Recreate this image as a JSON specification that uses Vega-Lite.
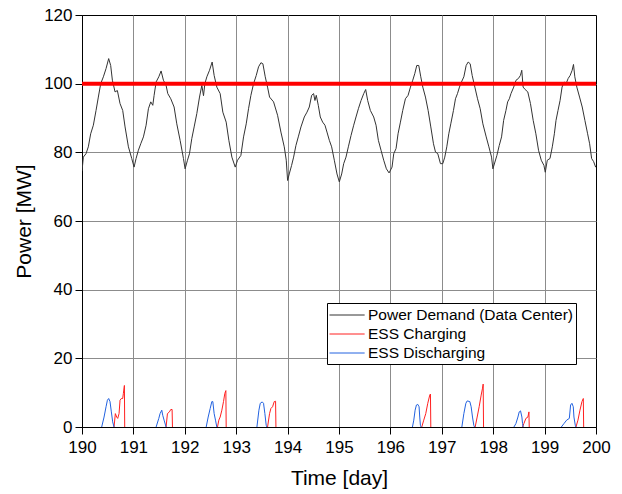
{
  "$schema": "https://vega.github.io/schema/vega-lite/v6.json",
  "width": 514,
  "height": 412,
  "autosize": {"type": "none"},
  "padding": {"left": 82, "top": 15, "right": 26, "bottom": 67},
  "background": "white",
  "config": {"view": {"stroke": "black", "strokeWidth": 1}, "font": "Liberation Sans"},
  "datasets": {
    "lines": [
      {"s":"Power Demand (Data Center)","d":0,"t":190.000,"p":74.5},{"s":"Power Demand (Data Center)","d":0,"t":190.026,"p":78.6},{"s":"Power Demand (Data Center)","d":0,"t":190.078,"p":79.6},{"s":"Power Demand (Data Center)","d":0,"t":190.123,"p":81.6},{"s":"Power Demand (Data Center)","d":0,"t":190.169,"p":85.4},{"s":"Power Demand (Data Center)","d":0,"t":190.221,"p":87.9},{"s":"Power Demand (Data Center)","d":0,"t":190.273,"p":92.2},{"s":"Power Demand (Data Center)","d":0,"t":190.318,"p":96.1},{"s":"Power Demand (Data Center)","d":0,"t":190.364,"p":100},{"s":"Power Demand (Data Center)","d":0,"t":190.416,"p":102},{"s":"Power Demand (Data Center)","d":0,"t":190.468,"p":104.4},{"s":"Power Demand (Data Center)","d":0,"t":190.519,"p":107.3},{"s":"Power Demand (Data Center)","d":0,"t":190.558,"p":105.3},{"s":"Power Demand (Data Center)","d":0,"t":190.591,"p":101},{"s":"Power Demand (Data Center)","d":0,"t":190.643,"p":97.6},{"s":"Power Demand (Data Center)","d":0,"t":190.688,"p":98},{"s":"Power Demand (Data Center)","d":0,"t":190.740,"p":94.2},{"s":"Power Demand (Data Center)","d":0,"t":190.792,"p":92.2},{"s":"Power Demand (Data Center)","d":0,"t":190.838,"p":87.4},{"s":"Power Demand (Data Center)","d":0,"t":190.903,"p":81.6},{"s":"Power Demand (Data Center)","d":0,"t":190.968,"p":78.2},
      {"s":"Power Demand (Data Center)","d":0,"t":191.013,"p":75.7},{"s":"Power Demand (Data Center)","d":0,"t":191.052,"p":78.2},{"s":"Power Demand (Data Center)","d":0,"t":191.097,"p":80.6},{"s":"Power Demand (Data Center)","d":0,"t":191.143,"p":82.5},{"s":"Power Demand (Data Center)","d":0,"t":191.195,"p":84.5},{"s":"Power Demand (Data Center)","d":0,"t":191.247,"p":87.9},{"s":"Power Demand (Data Center)","d":0,"t":191.292,"p":92.7},{"s":"Power Demand (Data Center)","d":0,"t":191.338,"p":94.7},{"s":"Power Demand (Data Center)","d":0,"t":191.377,"p":93.7},{"s":"Power Demand (Data Center)","d":0,"t":191.403,"p":96.6},{"s":"Power Demand (Data Center)","d":0,"t":191.442,"p":100.5},{"s":"Power Demand (Data Center)","d":0,"t":191.494,"p":102},{"s":"Power Demand (Data Center)","d":0,"t":191.539,"p":103.7},{"s":"Power Demand (Data Center)","d":0,"t":191.584,"p":101},{"s":"Power Demand (Data Center)","d":0,"t":191.636,"p":99.5},{"s":"Power Demand (Data Center)","d":0,"t":191.669,"p":97.1},{"s":"Power Demand (Data Center)","d":0,"t":191.727,"p":95.6},{"s":"Power Demand (Data Center)","d":0,"t":191.792,"p":93.2},{"s":"Power Demand (Data Center)","d":0,"t":191.844,"p":88.3},{"s":"Power Demand (Data Center)","d":0,"t":191.909,"p":83.5},{"s":"Power Demand (Data Center)","d":0,"t":191.974,"p":78.2},
      {"s":"Power Demand (Data Center)","d":0,"t":192.006,"p":75.2},{"s":"Power Demand (Data Center)","d":0,"t":192.052,"p":77.7},{"s":"Power Demand (Data Center)","d":0,"t":192.091,"p":79.6},{"s":"Power Demand (Data Center)","d":0,"t":192.136,"p":84},{"s":"Power Demand (Data Center)","d":0,"t":192.182,"p":87.4},{"s":"Power Demand (Data Center)","d":0,"t":192.234,"p":91.3},{"s":"Power Demand (Data Center)","d":0,"t":192.286,"p":96.1},{"s":"Power Demand (Data Center)","d":0,"t":192.331,"p":99.5},{"s":"Power Demand (Data Center)","d":0,"t":192.364,"p":96.5},{"s":"Power Demand (Data Center)","d":0,"t":192.390,"p":100},{"s":"Power Demand (Data Center)","d":0,"t":192.429,"p":102},{"s":"Power Demand (Data Center)","d":0,"t":192.481,"p":103.9},{"s":"Power Demand (Data Center)","d":0,"t":192.532,"p":106.3},{"s":"Power Demand (Data Center)","d":0,"t":192.571,"p":102.4},{"s":"Power Demand (Data Center)","d":0,"t":192.623,"p":99},{"s":"Power Demand (Data Center)","d":0,"t":192.688,"p":97.1},{"s":"Power Demand (Data Center)","d":0,"t":192.740,"p":91.7},{"s":"Power Demand (Data Center)","d":0,"t":192.805,"p":88.8},{"s":"Power Demand (Data Center)","d":0,"t":192.857,"p":83.5},{"s":"Power Demand (Data Center)","d":0,"t":192.916,"p":78.6},{"s":"Power Demand (Data Center)","d":0,"t":192.981,"p":75.7},
      {"s":"Power Demand (Data Center)","d":0,"t":193.026,"p":77.7},{"s":"Power Demand (Data Center)","d":0,"t":193.091,"p":79.1},{"s":"Power Demand (Data Center)","d":0,"t":193.143,"p":84.5},{"s":"Power Demand (Data Center)","d":0,"t":193.195,"p":88.3},{"s":"Power Demand (Data Center)","d":0,"t":193.240,"p":92.7},{"s":"Power Demand (Data Center)","d":0,"t":193.286,"p":96.6},{"s":"Power Demand (Data Center)","d":0,"t":193.338,"p":100},{"s":"Power Demand (Data Center)","d":0,"t":193.390,"p":102.4},{"s":"Power Demand (Data Center)","d":0,"t":193.435,"p":104.9},{"s":"Power Demand (Data Center)","d":0,"t":193.481,"p":106.1},{"s":"Power Demand (Data Center)","d":0,"t":193.519,"p":105.8},{"s":"Power Demand (Data Center)","d":0,"t":193.565,"p":102},{"s":"Power Demand (Data Center)","d":0,"t":193.610,"p":99},{"s":"Power Demand (Data Center)","d":0,"t":193.649,"p":96.1},{"s":"Power Demand (Data Center)","d":0,"t":193.727,"p":94.7},{"s":"Power Demand (Data Center)","d":0,"t":193.805,"p":90.8},{"s":"Power Demand (Data Center)","d":0,"t":193.870,"p":85.9},{"s":"Power Demand (Data Center)","d":0,"t":193.935,"p":81.6},{"s":"Power Demand (Data Center)","d":0,"t":193.974,"p":77.7},
      {"s":"Power Demand (Data Center)","d":0,"t":194.000,"p":71.8},{"s":"Power Demand (Data Center)","d":0,"t":194.032,"p":73.7},{"s":"Power Demand (Data Center)","d":0,"t":194.078,"p":76.2},{"s":"Power Demand (Data Center)","d":0,"t":194.117,"p":78.6},{"s":"Power Demand (Data Center)","d":0,"t":194.162,"p":82},{"s":"Power Demand (Data Center)","d":0,"t":194.208,"p":84.5},{"s":"Power Demand (Data Center)","d":0,"t":194.260,"p":87.4},{"s":"Power Demand (Data Center)","d":0,"t":194.325,"p":90.3},{"s":"Power Demand (Data Center)","d":0,"t":194.377,"p":91.7},{"s":"Power Demand (Data Center)","d":0,"t":194.422,"p":93.2},{"s":"Power Demand (Data Center)","d":0,"t":194.468,"p":96.6},{"s":"Power Demand (Data Center)","d":0,"t":194.506,"p":97.1},{"s":"Power Demand (Data Center)","d":0,"t":194.532,"p":95.1},{"s":"Power Demand (Data Center)","d":0,"t":194.558,"p":96.6},{"s":"Power Demand (Data Center)","d":0,"t":194.597,"p":93.7},{"s":"Power Demand (Data Center)","d":0,"t":194.636,"p":90.3},{"s":"Power Demand (Data Center)","d":0,"t":194.682,"p":88.8},{"s":"Power Demand (Data Center)","d":0,"t":194.727,"p":87.9},{"s":"Power Demand (Data Center)","d":0,"t":194.766,"p":85.9},{"s":"Power Demand (Data Center)","d":0,"t":194.812,"p":83.5},{"s":"Power Demand (Data Center)","d":0,"t":194.857,"p":81.6},{"s":"Power Demand (Data Center)","d":0,"t":194.909,"p":77.7},{"s":"Power Demand (Data Center)","d":0,"t":194.961,"p":73.7},
      {"s":"Power Demand (Data Center)","d":0,"t":195.006,"p":71.4},{"s":"Power Demand (Data Center)","d":0,"t":195.052,"p":73.7},{"s":"Power Demand (Data Center)","d":0,"t":195.091,"p":76.7},{"s":"Power Demand (Data Center)","d":0,"t":195.136,"p":78.6},{"s":"Power Demand (Data Center)","d":0,"t":195.182,"p":81.6},{"s":"Power Demand (Data Center)","d":0,"t":195.234,"p":84.9},{"s":"Power Demand (Data Center)","d":0,"t":195.286,"p":87.9},{"s":"Power Demand (Data Center)","d":0,"t":195.331,"p":90.3},{"s":"Power Demand (Data Center)","d":0,"t":195.377,"p":92.7},{"s":"Power Demand (Data Center)","d":0,"t":195.429,"p":95.1},{"s":"Power Demand (Data Center)","d":0,"t":195.481,"p":97.1},{"s":"Power Demand (Data Center)","d":0,"t":195.519,"p":98.3},{"s":"Power Demand (Data Center)","d":0,"t":195.558,"p":95.1},{"s":"Power Demand (Data Center)","d":0,"t":195.610,"p":92.2},{"s":"Power Demand (Data Center)","d":0,"t":195.675,"p":90.3},{"s":"Power Demand (Data Center)","d":0,"t":195.721,"p":87.9},{"s":"Power Demand (Data Center)","d":0,"t":195.766,"p":83.5},{"s":"Power Demand (Data Center)","d":0,"t":195.818,"p":80.6},{"s":"Power Demand (Data Center)","d":0,"t":195.870,"p":77.7},{"s":"Power Demand (Data Center)","d":0,"t":195.922,"p":75.2},{"s":"Power Demand (Data Center)","d":0,"t":195.974,"p":74},
      {"s":"Power Demand (Data Center)","d":0,"t":196.032,"p":75.7},{"s":"Power Demand (Data Center)","d":0,"t":196.065,"p":79.6},{"s":"Power Demand (Data Center)","d":0,"t":196.110,"p":81.1},{"s":"Power Demand (Data Center)","d":0,"t":196.149,"p":85.4},{"s":"Power Demand (Data Center)","d":0,"t":196.195,"p":88.8},{"s":"Power Demand (Data Center)","d":0,"t":196.240,"p":92.2},{"s":"Power Demand (Data Center)","d":0,"t":196.292,"p":95.6},{"s":"Power Demand (Data Center)","d":0,"t":196.344,"p":96.6},{"s":"Power Demand (Data Center)","d":0,"t":196.390,"p":99},{"s":"Power Demand (Data Center)","d":0,"t":196.435,"p":101},{"s":"Power Demand (Data Center)","d":0,"t":196.474,"p":102.9},{"s":"Power Demand (Data Center)","d":0,"t":196.513,"p":105.3},{"s":"Power Demand (Data Center)","d":0,"t":196.552,"p":105.3},{"s":"Power Demand (Data Center)","d":0,"t":196.591,"p":102},{"s":"Power Demand (Data Center)","d":0,"t":196.630,"p":99},{"s":"Power Demand (Data Center)","d":0,"t":196.682,"p":96.1},{"s":"Power Demand (Data Center)","d":0,"t":196.734,"p":92.2},{"s":"Power Demand (Data Center)","d":0,"t":196.786,"p":87.4},{"s":"Power Demand (Data Center)","d":0,"t":196.838,"p":82.5},{"s":"Power Demand (Data Center)","d":0,"t":196.877,"p":80.1},{"s":"Power Demand (Data Center)","d":0,"t":196.922,"p":79.6},{"s":"Power Demand (Data Center)","d":0,"t":196.974,"p":76.7},
      {"s":"Power Demand (Data Center)","d":0,"t":197.019,"p":76.7},{"s":"Power Demand (Data Center)","d":0,"t":197.058,"p":78.6},{"s":"Power Demand (Data Center)","d":0,"t":197.097,"p":81.6},{"s":"Power Demand (Data Center)","d":0,"t":197.136,"p":85.4},{"s":"Power Demand (Data Center)","d":0,"t":197.175,"p":88.3},{"s":"Power Demand (Data Center)","d":0,"t":197.227,"p":92.2},{"s":"Power Demand (Data Center)","d":0,"t":197.266,"p":95.6},{"s":"Power Demand (Data Center)","d":0,"t":197.305,"p":97.1},{"s":"Power Demand (Data Center)","d":0,"t":197.344,"p":99},{"s":"Power Demand (Data Center)","d":0,"t":197.383,"p":100.5},{"s":"Power Demand (Data Center)","d":0,"t":197.429,"p":102},{"s":"Power Demand (Data Center)","d":0,"t":197.474,"p":105.3},{"s":"Power Demand (Data Center)","d":0,"t":197.513,"p":106.3},{"s":"Power Demand (Data Center)","d":0,"t":197.552,"p":105.8},{"s":"Power Demand (Data Center)","d":0,"t":197.591,"p":102.4},{"s":"Power Demand (Data Center)","d":0,"t":197.643,"p":99},{"s":"Power Demand (Data Center)","d":0,"t":197.695,"p":95.6},{"s":"Power Demand (Data Center)","d":0,"t":197.747,"p":92.7},{"s":"Power Demand (Data Center)","d":0,"t":197.799,"p":88.3},{"s":"Power Demand (Data Center)","d":0,"t":197.864,"p":84.5},{"s":"Power Demand (Data Center)","d":0,"t":197.916,"p":81.6},{"s":"Power Demand (Data Center)","d":0,"t":197.968,"p":78.6},{"s":"Power Demand (Data Center)","d":0,"t":197.994,"p":75.2},
      {"s":"Power Demand (Data Center)","d":0,"t":198.072,"p":79.1},{"s":"Power Demand (Data Center)","d":0,"t":198.118,"p":82},{"s":"Power Demand (Data Center)","d":0,"t":198.163,"p":84.5},{"s":"Power Demand (Data Center)","d":0,"t":198.203,"p":89.3},{"s":"Power Demand (Data Center)","d":0,"t":198.248,"p":92.2},{"s":"Power Demand (Data Center)","d":0,"t":198.281,"p":94.7},{"s":"Power Demand (Data Center)","d":0,"t":198.314,"p":95.6},{"s":"Power Demand (Data Center)","d":0,"t":198.346,"p":97.1},{"s":"Power Demand (Data Center)","d":0,"t":198.399,"p":99},{"s":"Power Demand (Data Center)","d":0,"t":198.444,"p":101},{"s":"Power Demand (Data Center)","d":0,"t":198.490,"p":101.5},{"s":"Power Demand (Data Center)","d":0,"t":198.529,"p":102.4},{"s":"Power Demand (Data Center)","d":0,"t":198.556,"p":103.9},{"s":"Power Demand (Data Center)","d":0,"t":198.582,"p":99},{"s":"Power Demand (Data Center)","d":0,"t":198.621,"p":98.3},{"s":"Power Demand (Data Center)","d":0,"t":198.673,"p":97.6},{"s":"Power Demand (Data Center)","d":0,"t":198.725,"p":94.2},{"s":"Power Demand (Data Center)","d":0,"t":198.778,"p":89.3},{"s":"Power Demand (Data Center)","d":0,"t":198.830,"p":85.4},{"s":"Power Demand (Data Center)","d":0,"t":198.882,"p":80.6},{"s":"Power Demand (Data Center)","d":0,"t":198.935,"p":77.7},{"s":"Power Demand (Data Center)","d":0,"t":198.987,"p":76.2},
      {"s":"Power Demand (Data Center)","d":0,"t":199.013,"p":74.2},{"s":"Power Demand (Data Center)","d":0,"t":199.052,"p":77.7},{"s":"Power Demand (Data Center)","d":0,"t":199.105,"p":78.2},{"s":"Power Demand (Data Center)","d":0,"t":199.150,"p":81.6},{"s":"Power Demand (Data Center)","d":0,"t":199.190,"p":85.4},{"s":"Power Demand (Data Center)","d":0,"t":199.222,"p":89.3},{"s":"Power Demand (Data Center)","d":0,"t":199.261,"p":92.2},{"s":"Power Demand (Data Center)","d":0,"t":199.301,"p":95.1},{"s":"Power Demand (Data Center)","d":0,"t":199.340,"p":99},{"s":"Power Demand (Data Center)","d":0,"t":199.379,"p":100.5},{"s":"Power Demand (Data Center)","d":0,"t":199.418,"p":100},{"s":"Power Demand (Data Center)","d":0,"t":199.458,"p":101.5},{"s":"Power Demand (Data Center)","d":0,"t":199.497,"p":102.4},{"s":"Power Demand (Data Center)","d":0,"t":199.536,"p":103.9},{"s":"Power Demand (Data Center)","d":0,"t":199.562,"p":105.6},{"s":"Power Demand (Data Center)","d":0,"t":199.588,"p":102},{"s":"Power Demand (Data Center)","d":0,"t":199.627,"p":99},{"s":"Power Demand (Data Center)","d":0,"t":199.680,"p":96.1},{"s":"Power Demand (Data Center)","d":0,"t":199.732,"p":93.2},{"s":"Power Demand (Data Center)","d":0,"t":199.784,"p":89.3},{"s":"Power Demand (Data Center)","d":0,"t":199.837,"p":85.4},{"s":"Power Demand (Data Center)","d":0,"t":199.876,"p":82.5},{"s":"Power Demand (Data Center)","d":0,"t":199.915,"p":78.2},{"s":"Power Demand (Data Center)","d":0,"t":199.954,"p":77.3},{"s":"Power Demand (Data Center)","d":0,"t":199.993,"p":75.7},{"s":"Power Demand (Data Center)","d":0,"t":200.0,"p":76},
      {"s":"ESS Charging","d":190,"t":190.623,"p":0},{"s":"ESS Charging","d":190,"t":190.649,"p":3.9},{"s":"ESS Charging","d":190,"t":190.675,"p":2.9},{"s":"ESS Charging","d":190,"t":190.695,"p":2.5},{"s":"ESS Charging","d":190,"t":190.721,"p":3.9},{"s":"ESS Charging","d":190,"t":190.740,"p":7.8},{"s":"ESS Charging","d":190,"t":190.766,"p":8.3},{"s":"ESS Charging","d":190,"t":190.792,"p":8.3},{"s":"ESS Charging","d":190,"t":190.805,"p":9.8},{"s":"ESS Charging","d":190,"t":190.825,"p":12.1},{"s":"ESS Charging","d":190,"t":190.831,"p":0},
      {"s":"ESS Charging","d":191,"t":191.636,"p":0},{"s":"ESS Charging","d":191,"t":191.662,"p":3.9},{"s":"ESS Charging","d":191,"t":191.701,"p":4.4},{"s":"ESS Charging","d":191,"t":191.727,"p":5.1},{"s":"ESS Charging","d":191,"t":191.753,"p":5.1},{"s":"ESS Charging","d":191,"t":191.760,"p":0},
      {"s":"ESS Charging","d":192,"t":192.636,"p":0},{"s":"ESS Charging","d":192,"t":192.662,"p":2},{"s":"ESS Charging","d":192,"t":192.688,"p":2.9},{"s":"ESS Charging","d":192,"t":192.721,"p":4.9},{"s":"ESS Charging","d":192,"t":192.753,"p":7.4},{"s":"ESS Charging","d":192,"t":192.779,"p":9.8},{"s":"ESS Charging","d":192,"t":192.799,"p":10.6},{"s":"ESS Charging","d":192,"t":192.805,"p":0},
      {"s":"ESS Charging","d":193,"t":193.610,"p":0},{"s":"ESS Charging","d":193,"t":193.649,"p":3.9},{"s":"ESS Charging","d":193,"t":193.675,"p":5.4},{"s":"ESS Charging","d":193,"t":193.708,"p":5.9},{"s":"ESS Charging","d":193,"t":193.740,"p":7.4},{"s":"ESS Charging","d":193,"t":193.766,"p":7.5},{"s":"ESS Charging","d":193,"t":193.773,"p":0},
      {"s":"ESS Charging","d":196,"t":196.610,"p":0},{"s":"ESS Charging","d":196,"t":196.649,"p":2},{"s":"ESS Charging","d":196,"t":196.688,"p":3.9},{"s":"ESS Charging","d":196,"t":196.727,"p":6.9},{"s":"ESS Charging","d":196,"t":196.766,"p":9.3},{"s":"ESS Charging","d":196,"t":196.779,"p":9.6},{"s":"ESS Charging","d":196,"t":196.786,"p":0},
      {"s":"ESS Charging","d":197,"t":197.649,"p":0},{"s":"ESS Charging","d":197,"t":197.688,"p":2.9},{"s":"ESS Charging","d":197,"t":197.727,"p":5.9},{"s":"ESS Charging","d":197,"t":197.766,"p":9.3},{"s":"ESS Charging","d":197,"t":197.792,"p":11.3},{"s":"ESS Charging","d":197,"t":197.805,"p":12.5},{"s":"ESS Charging","d":197,"t":197.812,"p":0},
      {"s":"ESS Charging","d":198,"t":198.571,"p":0},{"s":"ESS Charging","d":198,"t":198.597,"p":1},{"s":"ESS Charging","d":198,"t":198.636,"p":2.5},{"s":"ESS Charging","d":198,"t":198.675,"p":2.9},{"s":"ESS Charging","d":198,"t":198.695,"p":4.4},{"s":"ESS Charging","d":198,"t":198.701,"p":0},
      {"s":"ESS Charging","d":199,"t":199.610,"p":0},{"s":"ESS Charging","d":199,"t":199.649,"p":2},{"s":"ESS Charging","d":199,"t":199.688,"p":4.9},{"s":"ESS Charging","d":199,"t":199.727,"p":7.4},{"s":"ESS Charging","d":199,"t":199.753,"p":8.3},{"s":"ESS Charging","d":199,"t":199.760,"p":0},
      {"s":"ESS Discharging","d":190,"t":190.383,"p":0},{"s":"ESS Discharging","d":190,"t":190.429,"p":2.9},{"s":"ESS Discharging","d":190,"t":190.468,"p":5.9},{"s":"ESS Discharging","d":190,"t":190.494,"p":7.8},{"s":"ESS Discharging","d":190,"t":190.519,"p":8.3},{"s":"ESS Discharging","d":190,"t":190.545,"p":7.4},{"s":"ESS Discharging","d":190,"t":190.571,"p":4.4},{"s":"ESS Discharging","d":190,"t":190.597,"p":1.5},{"s":"ESS Discharging","d":190,"t":190.623,"p":0},
      {"s":"ESS Discharging","d":191,"t":191.442,"p":0},{"s":"ESS Discharging","d":191,"t":191.494,"p":2.5},{"s":"ESS Discharging","d":191,"t":191.519,"p":3.9},{"s":"ESS Discharging","d":191,"t":191.552,"p":4.9},{"s":"ESS Discharging","d":191,"t":191.571,"p":3.4},{"s":"ESS Discharging","d":191,"t":191.597,"p":2},{"s":"ESS Discharging","d":191,"t":191.636,"p":0},
      {"s":"ESS Discharging","d":192,"t":192.416,"p":0},{"s":"ESS Discharging","d":192,"t":192.455,"p":2.9},{"s":"ESS Discharging","d":192,"t":192.494,"p":5.4},{"s":"ESS Discharging","d":192,"t":192.526,"p":7.4},{"s":"ESS Discharging","d":192,"t":192.545,"p":7.4},{"s":"ESS Discharging","d":192,"t":192.571,"p":3.9},{"s":"ESS Discharging","d":192,"t":192.597,"p":2},{"s":"ESS Discharging","d":192,"t":192.623,"p":0},
      {"s":"ESS Discharging","d":193,"t":193.403,"p":0},{"s":"ESS Discharging","d":193,"t":193.442,"p":4.9},{"s":"ESS Discharging","d":193,"t":193.468,"p":6.9},{"s":"ESS Discharging","d":193,"t":193.506,"p":7.3},{"s":"ESS Discharging","d":193,"t":193.532,"p":6.9},{"s":"ESS Discharging","d":193,"t":193.558,"p":3.9},{"s":"ESS Discharging","d":193,"t":193.584,"p":0.5},{"s":"ESS Discharging","d":193,"t":193.597,"p":0},
      {"s":"ESS Discharging","d":196,"t":196.429,"p":0},{"s":"ESS Discharging","d":196,"t":196.455,"p":2},{"s":"ESS Discharging","d":196,"t":196.481,"p":4.9},{"s":"ESS Discharging","d":196,"t":196.506,"p":6.4},{"s":"ESS Discharging","d":196,"t":196.532,"p":6.6},{"s":"ESS Discharging","d":196,"t":196.558,"p":5.9},{"s":"ESS Discharging","d":196,"t":196.571,"p":2.9},{"s":"ESS Discharging","d":196,"t":196.584,"p":0.5},{"s":"ESS Discharging","d":196,"t":196.597,"p":0},
      {"s":"ESS Discharging","d":197,"t":197.390,"p":0},{"s":"ESS Discharging","d":197,"t":197.429,"p":3.9},{"s":"ESS Discharging","d":197,"t":197.468,"p":6.9},{"s":"ESS Discharging","d":197,"t":197.494,"p":7.6},{"s":"ESS Discharging","d":197,"t":197.545,"p":7.4},{"s":"ESS Discharging","d":197,"t":197.571,"p":5.9},{"s":"ESS Discharging","d":197,"t":197.597,"p":2.9},{"s":"ESS Discharging","d":197,"t":197.623,"p":0.5},{"s":"ESS Discharging","d":197,"t":197.636,"p":0},
      {"s":"ESS Discharging","d":198,"t":198.403,"p":0},{"s":"ESS Discharging","d":198,"t":198.442,"p":1},{"s":"ESS Discharging","d":198,"t":198.481,"p":2.9},{"s":"ESS Discharging","d":198,"t":198.506,"p":4.4},{"s":"ESS Discharging","d":198,"t":198.532,"p":4.7},{"s":"ESS Discharging","d":198,"t":198.558,"p":2.9},{"s":"ESS Discharging","d":198,"t":198.571,"p":1},{"s":"ESS Discharging","d":198,"t":198.584,"p":0},
      {"s":"ESS Discharging","d":199,"t":199.325,"p":0},{"s":"ESS Discharging","d":199,"t":199.377,"p":1},{"s":"ESS Discharging","d":199,"t":199.429,"p":2},{"s":"ESS Discharging","d":199,"t":199.481,"p":2.5},{"s":"ESS Discharging","d":199,"t":199.506,"p":6.4},{"s":"ESS Discharging","d":199,"t":199.532,"p":6.9},{"s":"ESS Discharging","d":199,"t":199.558,"p":5.9},{"s":"ESS Discharging","d":199,"t":199.571,"p":2.9},{"s":"ESS Discharging","d":199,"t":199.597,"p":0.5},{"s":"ESS Discharging","d":199,"t":199.610,"p":0}
    ],
    "limit": [{"p": 100}]
  },
  "layer": [
    {
      "data": {"name": "lines"},
      "mark": {"type": "line", "strokeWidth": 1, "clip": true},
      "encoding": {
        "x": {
          "field": "t", "type": "quantitative",
          "scale": {"domain": [190, 200], "nice": false, "zero": false},
          "axis": {
            "values": [190,190.5,191,191.5,192,192.5,193,193.5,194,194.5,195,195.5,196,196.5,197,197.5,198,198.5,199,199.5,200],
            "title": "Time [day]", "titleFontSize": 21, "titleFontWeight": "normal", "titleColor": "#000", "titlePadding": 12,
            "labelFontSize": 17, "labelColor": "#000", "labelPadding": 5, "labelFlush": false, "labelOverlap": false,
            "format": "d",
            "labelExpr": "datum.value % 1 === 0 ? datum.label : ''",
            "domainColor": "#000", "tickColor": "#000",
            "tickSize": {"condition": {"test": "datum.value % 1 !== 0", "value": 4}, "value": 7},
            "grid": true,
            "gridColor": {"condition": {"test": "datum.value % 1 !== 0", "value": "#c0c0c0"}, "value": "#8c8c8c"},
            "gridDash": {"condition": {"test": "datum.value % 1 !== 0", "value": [2, 2]}, "value": []},
            "gridOpacity": {"condition": {"test": "datum.value <= 190 || datum.value >= 200", "value": 0}, "value": 1}
          }
        },
        "y": {
          "field": "p", "type": "quantitative",
          "scale": {"domain": [0, 120], "nice": false},
          "axis": {
            "values": [0,10,20,30,40,50,60,70,80,90,100,110,120],
            "title": "Power [MW]", "titleFontSize": 21, "titleFontWeight": "normal", "titleColor": "#000", "titlePadding": 9,
            "labelFontSize": 17, "labelColor": "#000", "labelPadding": 3, "labelFlush": false, "labelOverlap": false,
            "labelExpr": "datum.value % 20 === 0 ? datum.label : ''",
            "domainColor": "#000", "tickColor": "#000",
            "tickSize": {"condition": {"test": "datum.value % 20 !== 0", "value": 4}, "value": 7},
            "grid": true,
            "gridColor": "#8c8c8c",
            "gridOpacity": {"condition": {"test": "datum.value % 20 !== 0 || datum.value <= 0 || datum.value >= 120", "value": 0}, "value": 1}
          }
        },
        "detail": {"field": "d"},
        "color": {
          "field": "s", "type": "nominal",
          "scale": {"domain": ["Power Demand (Data Center)", "ESS Charging", "ESS Discharging"], "range": ["#333333", "#ff2020", "#2262e0"]},
          "legend": {
            "title": null, "orient": "none", "legendX": 245, "legendY": 288, "direction": "vertical",
            "fillColor": "white", "strokeColor": "black", "padding": 2, "cornerRadius": 0,
            "symbolType": "M-1,0H2.7", "symbolSize": 361, "symbolStrokeWidth": 1,
            "labelFontSize": 15.5, "labelColor": "#000", "labelLimit": 300, "rowPadding": -1, "labelOffset": 19
          }
        }
      }
    },
    {
      "data": {"name": "limit"},
      "mark": {"type": "rule", "color": "#ff0000", "strokeWidth": 4},
      "encoding": {
        "y": {"field": "p", "type": "quantitative"}
      }
    }
  ]
}
